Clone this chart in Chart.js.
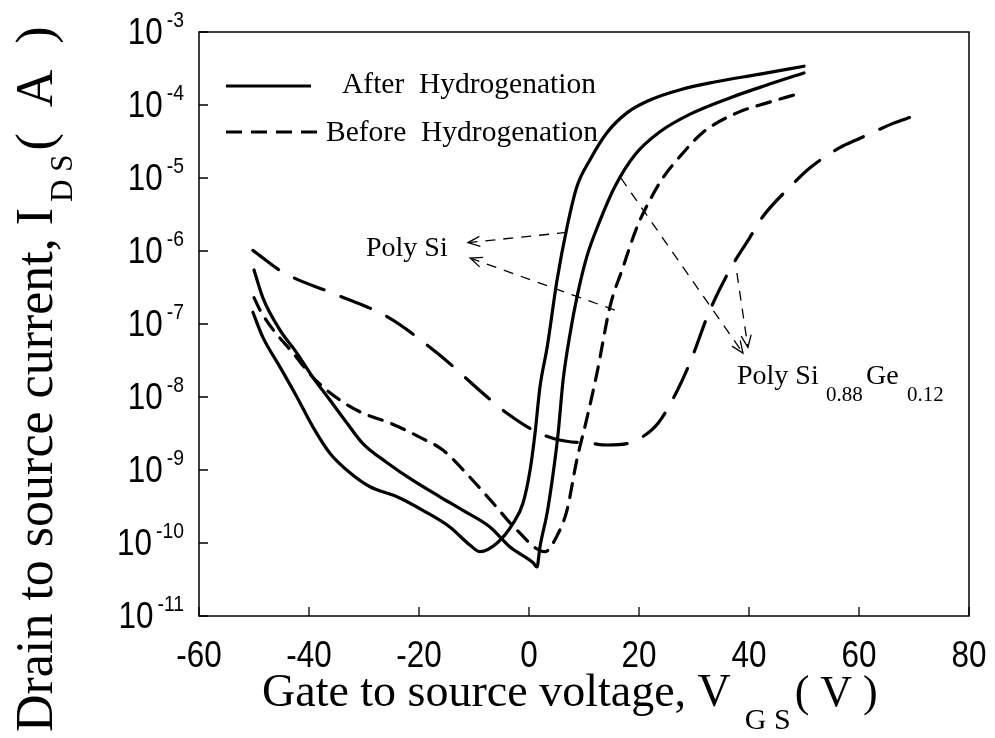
<!DOCTYPE html>
<html lang="en">
<head>
  <meta charset="UTF-8" />
  <title>Drain current vs gate voltage</title>
  <script src="https://cdn.jsdelivr.net/npm/chart.js"></script>
  <style>
    html, body { margin: 0; padding: 0; background: #fff; }
    #wrap { width: 995px; height: 738px; }
  </style>
</head>
<body>
  <div id="wrap"><canvas id="myChart" width="995" height="738"></canvas></div>

  <script>
    // Gate voltage (V) and drain current (A) for each device
    const vSiAfter = [-50.2, -48.4, -45.3, -42.2, -39.3, -36.2, -32.5, -28.9, -24, -19.3, -14.4, -10.7, -8.9, -5.8, -2.9, -1.1, 0.2, 1.1, 2.0, 3.3, 5.1, 6.9, 8.7, 11.1, 14.2, 17.8, 22, 27.5, 33.5, 42, 50];
    const iSiAfter = [1.45e-7, 6.6e-8, 2.6e-8, 1.0e-8, 3.9e-9, 1.7e-9, 9.1e-10, 5.9e-10, 4.3e-10, 2.8e-10, 1.66e-10, 9.3e-11, 7.6e-11, 1.0e-10, 1.86e-10, 3.5e-10, 1.0e-9, 3.2e-9, 1.38e-8, 4.8e-8, 4.0e-7, 2.1e-6, 7.6e-6, 1.78e-5, 4.2e-5, 7.8e-5, 1.17e-4, 1.62e-4, 2.05e-4, 2.65e-4, 3.4e-4];

    const vSiGeAfter = [-50, -48.4, -45.3, -42.2, -39.3, -36.2, -33.1, -30.2, -25.8, -21.1, -16.2, -12, -7.1, -3.5, 0.7, 1.45, 2.0, 3.3, 4.4, 5.3, 6.2, 7.5, 8.7, 10.5, 12.9, 15.6, 19.3, 23.8, 29.3, 36.5, 43, 50];
    const iSiGeAfter = [5.5e-7, 2.3e-7, 8.3e-8, 4.0e-8, 1.86e-8, 9.1e-9, 4.4e-9, 2.3e-9, 1.26e-9, 7.2e-10, 4.3e-10, 2.8e-10, 1.66e-10, 8.9e-11, 5.4e-11, 4.7e-11, 8.9e-11, 2.6e-10, 9.1e-10, 3.2e-9, 1.7e-8, 7.6e-8, 2.3e-7, 8.3e-7, 2.6e-6, 7.6e-6, 2.1e-5, 4.3e-5, 7.5e-5, 1.25e-4, 1.85e-4, 2.75e-4];

    const vSiBefore = [-50, -48.9, -46.5, -42.9, -39.3, -34.4, -30.2, -25.3, -19.8, -15.6, -10.7, -6.5, -2.2, 2.9, 5.1, 6.9, 8.7, 10.5, 12.4, 14.7, 17.1, 19.6, 22, 24.4, 28, 31.6, 37.8, 43.3, 49.3];
    const iSiBefore = [2.3e-7, 1.55e-7, 8.3e-8, 4.0e-8, 1.86e-8, 9.1e-9, 6.0e-9, 4.4e-9, 2.8e-9, 1.86e-9, 7.9e-10, 3.5e-10, 1.5e-10, 7.6e-11, 1.26e-10, 2.8e-10, 1.38e-9, 5.0e-9, 2.2e-8, 1.7e-7, 6.0e-7, 2.1e-6, 5.0e-6, 1.02e-5, 2.2e-5, 4.2e-5, 7.8e-5, 1.07e-4, 1.45e-4];

    const vSiGeBefore = [-50.2, -44.7, -34.9, -25.8, -16.7, -7.6, -4.0, 1.45, 5.3, 11.5, 14.2, 17.8, 20.5, 23.5, 26.9, 29.3, 32.9, 36.5, 40.2, 42.5, 47.5, 51.1, 56.5, 60.2, 66.2, 69.6];
    const iSiGeBefore = [1.02e-6, 5.1e-7, 2.5e-7, 1.26e-7, 4.0e-8, 1.0e-8, 6.0e-9, 3.3e-9, 2.6e-9, 2.3e-9, 2.2e-9, 2.3e-9, 2.8e-9, 4.4e-9, 1.2e-8, 3.0e-8, 1.55e-7, 5.5e-7, 1.55e-6, 2.95e-6, 7.6e-6, 1.38e-5, 2.6e-5, 3.5e-5, 5.6e-5, 6.9e-5];

    // Axis ticks
    const xTicks = [-60, -40, -20, 0, 20, 40, 60, 80];
    const yExponents = [-3, -4, -5, -6, -7, -8, -9, -10, -11];

    const SHORT_DASH = [14, 10];
    const LONG_DASH = [32, 18];

    function pts(vs, is) {
      return vs.map((v, k) => ({ x: v, y: is[k] }));
    }

    function curve(label, vs, is, dash) {
      return {
        label: label,
        data: pts(vs, is),
        showLine: true,
        borderColor: '#000',
        borderWidth: 3.2,
        borderDash: dash,
        borderCapStyle: 'round',
        borderJoinStyle: 'round',
        pointRadius: 0,
        cubicInterpolationMode: 'monotone',
        fill: false
      };
    }

    // draw text squeezed horizontally by sx
    function txt(ctx, s, x, y, font, align, sx) {
      ctx.save();
      ctx.font = font;
      ctx.textAlign = align || 'left';
      ctx.translate(x, y);
      ctx.scale(sx || 1, 1);
      ctx.fillText(s, 0, 0);
      ctx.restore();
    }

    function arrow(ctx, x1, y1, x2, y2) {
      ctx.save();
      ctx.lineWidth = 1.3;
      ctx.setLineDash([10, 8]);
      ctx.beginPath();
      ctx.moveTo(x1, y1);
      ctx.lineTo(x2, y2);
      ctx.stroke();
      ctx.setLineDash([]);
      const a = Math.atan2(y2 - y1, x2 - x1);
      const h = 13;
      ctx.beginPath();
      ctx.moveTo(x2 - h * Math.cos(a - 0.4), y2 - h * Math.sin(a - 0.4));
      ctx.lineTo(x2, y2);
      ctx.lineTo(x2 - h * Math.cos(a + 0.4), y2 - h * Math.sin(a + 0.4));
      ctx.stroke();
      ctx.restore();
    }

    const decorations = {
      id: 'decorations',
      afterDraw(chart) {
        const ctx = chart.ctx;
        const area = chart.chartArea;
        const xs = chart.scales.x;
        const ys = chart.scales.y;
        const X = v => xs.getPixelForValue(v);
        const Y = i => ys.getPixelForValue(i);
        const serif = '"Liberation Serif", "Times New Roman", serif';

        ctx.save();
        ctx.fillStyle = '#000';
        ctx.strokeStyle = '#000';

        // frame
        ctx.lineWidth = 1.5;
        ctx.strokeRect(area.left, area.top, area.right - area.left, area.bottom - area.top);

        // inward tick marks
        ctx.lineWidth = 1.3;
        ctx.beginPath();
        yExponents.forEach(e => {
          const y = Y(Math.pow(10, e));
          ctx.moveTo(area.left, y);
          ctx.lineTo(area.left + 9, y);
        });
        xTicks.forEach(v => {
          const x = X(v);
          ctx.moveTo(x, area.bottom);
          ctx.lineTo(x, area.bottom - 9);
        });
        ctx.stroke();

        // y tick labels 10^n
        yExponents.forEach(e => {
          const y = Y(Math.pow(10, e));
          const sup = String(e);
          ctx.font = '22px "Liberation Sans"';
          const supW = ctx.measureText(sup).width * 0.88;
          const right = 184;
          txt(ctx, sup, right - supW, y - 5, '22px "Liberation Sans"', 'left', 0.88);
          txt(ctx, '10', right - supW - 4, y + 12, '37px "Liberation Sans"', 'right', 0.85);
        });

        // x tick labels
        xTicks.forEach(v => {
          txt(ctx, String(v), X(v), area.bottom + 51, '37px "Liberation Sans"', 'center', 0.85);
        });

        // x axis title
        ctx.textAlign = 'left';
        const xMain = 'Gate to source voltage, V';
        ctx.font = '46px ' + serif;
        ctx.fillText(xMain, 262, 706);
        let wx = 262 + ctx.measureText(xMain).width;
        ctx.font = '30px ' + serif;
        ctx.fillText('G S', wx + 14, 729);
        wx += 14 + ctx.measureText('G S').width;
        ctx.font = '44px ' + serif;
        ctx.fillText('( V )', wx + 4, 706);

        // y axis title, rotated
        ctx.save();
        ctx.translate(52, 732);
        ctx.rotate(-Math.PI / 2);
        ctx.font = '52px ' + serif;
        const yMain = 'Drain to source current, I';
        ctx.fillText(yMain, 0, 0);
        let wy = ctx.measureText(yMain).width;
        ctx.font = '31px ' + serif;
        ctx.fillText('D S', wy + 6, 20);
        wy += 6 + ctx.measureText('D S').width;
        ctx.font = '52px ' + serif;
        ctx.fillText('(  A  )', wy + 4, 0);
        ctx.restore();

        // legend
        ctx.lineWidth = 3;
        ctx.lineCap = 'butt';
        ctx.beginPath();
        ctx.moveTo(226, 86);
        ctx.lineTo(311, 86);
        ctx.stroke();
        ctx.setLineDash([16, 9]);
        ctx.beginPath();
        ctx.moveTo(226, 132);
        ctx.lineTo(322, 132);
        ctx.stroke();
        ctx.setLineDash([]);
        txt(ctx, 'After  Hydrogenation', 342, 93, '29.5px ' + serif, 'left', 1);
        txt(ctx, 'Before  Hydrogenation', 326, 141, '29.5px ' + serif, 'left', 1);

        // annotations
        txt(ctx, 'Poly Si', 366, 256, '28px ' + serif, 'left', 1);
        arrow(ctx, X(6.9), Y(1.8e-6), X(-11.1), Y(1.3e-6));
        arrow(ctx, X(15.6), Y(1.55e-7), X(-10.7), Y(8.0e-7));

        txt(ctx, 'Poly Si', 737, 384, '28px ' + serif, 'left', 1);
        txt(ctx, '0.88', 826, 401, '21px ' + serif, 'left', 1);
        txt(ctx, 'Ge', 866, 384, '28px ' + serif, 'left', 1);
        txt(ctx, '0.12', 907, 401, '21px ' + serif, 'left', 1);
        arrow(ctx, X(16.7), Y(1.0e-5), X(38.9), Y(4.0e-8));
        arrow(ctx, X(37.8), Y(5.0e-7), X(39.8), Y(4.8e-8));

        ctx.restore();
      }
    };

    new Chart(document.getElementById('myChart'), {
      type: 'scatter',
      data: {
        datasets: [
          curve('Poly Si, after', vSiAfter, iSiAfter, []),
          curve('Poly SiGe, after', vSiGeAfter, iSiGeAfter, []),
          curve('Poly Si, before', vSiBefore, iSiBefore, SHORT_DASH),
          curve('Poly SiGe, before', vSiGeBefore, iSiGeBefore, LONG_DASH)
        ]
      },
      options: {
        responsive: false,
        animation: false,
        devicePixelRatio: 1,
        layout: { padding: { left: 199, right: 26, top: 32, bottom: 122 } },
        plugins: {
          legend: { display: false },
          tooltip: { enabled: false }
        },
        scales: {
          x: { type: 'linear', min: -60, max: 80, display: false },
          y: { type: 'logarithmic', min: 1e-11, max: 1e-3, display: false }
        }
      },
      plugins: [decorations]
    });
  </script>
</body>
</html>
